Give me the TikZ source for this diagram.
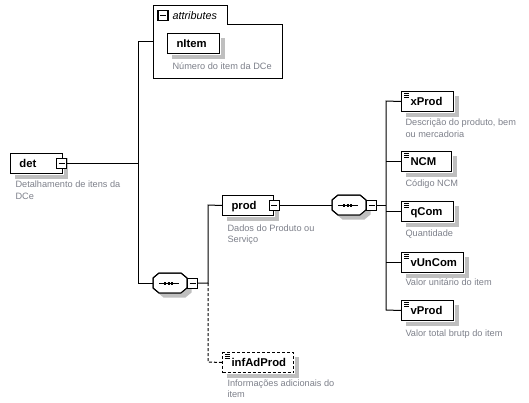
\documentclass[tikz,border=0pt]{standalone}
\usepackage{fontspec}
\setmainfont{Liberation Sans}
\usetikzlibrary{shapes.misc}
\definecolor{desc}{RGB}{125,128,138}
\newcommand\labfont{\fontsize{11.3}{13}\selectfont\bfseries}
\newcommand\descfont{\fontsize{9.2}{11.5}\selectfont}
\newcommand\myoct[2]{({#1-17},{#2-5}) -- ({#1-11},{#2-10}) -- ({#1+11},{#2-10}) -- ({#1+17},{#2-5}) -- ({#1+17},{#2+5}) -- ({#1+11},{#2+10}) -- ({#1-11},{#2+10}) -- ({#1-17},{#2+5}) -- cycle}
\begin{document}
\begin{tikzpicture}[x=1pt,y=-1pt,line width=1pt,
  elem/.style={draw,fill=white,anchor=north west,minimum height=20pt,
    inner xsep=0pt,inner ysep=0pt,text width=#1,align=left,
    text height=8.5pt,text depth=1.5pt,font=\labfont},
  shad/.style={fill=black!25,draw=none},
  simple/.style={path picture={\draw[solid,line width=0.7pt]
    ([shift={(2.5pt,-2pt)}]path picture bounding box.north west) -- ++(5pt,0pt)
    ([shift={(2.5pt,-4pt)}]path picture bounding box.north west) -- ++(5pt,0pt)
    ([shift={(2.5pt,-6pt)}]path picture bounding box.north west) -- ++(5pt,0pt);}},
  minusb/.style={draw,fill=white,minimum size=10pt,inner sep=0pt,line width=0.8pt,
    path picture={\draw[solid,line width=1pt]
      ([xshift=2pt]path picture bounding box.west) --
      ([xshift=-2pt]path picture bounding box.east);}},
  compshape/.style={chamfered rectangle,chamfered rectangle xsep=6pt,
    chamfered rectangle ysep=5pt,minimum width=34pt,minimum height=20pt,inner sep=0pt},
  dsc/.style={anchor=base west,inner sep=0pt,align=left,font=\descfont,text=desc},
  dashy/.style={dash pattern=on 3pt off 2pt}]
\useasboundingbox (0,0) rectangle (529,402);

% coordinates of the buses
\coordinate (b1t) at (138,41);
\coordinate (b1b) at (138,283);
\coordinate (attrin) at (153,41);
\coordinate (b2t) at (208,205);
\coordinate (b2m) at (208,283);
\coordinate (b2b) at (208,362);
\coordinate (b3t) at (386,101);
\coordinate (b3b) at (386,310);

% attributes container
\path[draw=black,fill=white] (153,5) -- (227,5) -- (227,24) -- (282,24) -- (282,78) -- (153,78) -- cycle;
\node[minusb,line width=1.5pt] (attrm) at (163,15.5) {};
\node[anchor=base west,inner sep=0pt,font=\fontsize{10.8}{12}\selectfont\itshape] (attrl) at (172,19.5) {attributes};

% elements
\node[elem=52pt] (det) at (10,153) {\hspace*{9pt}det};
\node[elem=52pt] (nitem) at (167,33) {\hspace*{9pt}nItem};
\node[elem=51pt] (prod) at (222,195) {\hspace*{9pt}prod};
\node[elem=71pt,simple,dashy] (inf) at (222,352) {\hspace*{9pt}infAdProd};
\node[elem=52pt,simple] (xprod) at (401,91) {\hspace*{9pt}xProd};
\node[elem=50pt,simple] (ncm) at (401,151) {\hspace*{9pt}NCM};
\node[elem=52pt,simple] (qcom) at (401,201) {\hspace*{9pt}qCom};
\node[elem=62pt,simple] (vuncom) at (401,252) {\hspace*{9pt}vUnCom};
\node[elem=52pt,simple] (vprod) at (401,300) {\hspace*{9pt}vProd};

% sequence compositors (octagons)
\draw[fill=white] \myoct{170}{283};
\draw[fill=white] \myoct{349}{205};
\node[compshape] (c1) at (170,283) {};
\node[compshape] (c2) at (349,205) {};

% element shadows: strips right of and below each box
\foreach \n in {det,nitem,prod,inf,xprod,ncm,qcom,vuncom,vprod}{
  \path[shad] ([shift={(0.5pt,-4.5pt)}]\n.north east) rectangle ([shift={(4.5pt,-4.5pt)}]\n.south east);
  \path[shad] ([shift={(4.5pt,-0.5pt)}]\n.south west) rectangle ([shift={(4.5pt,-4.5pt)}]\n.south east);
}
% compositor shadows, clipped outside the octagons
\begin{scope}[even odd rule]
  \clip (0,0) rectangle (529,402) \myoct{170}{283};
  \fill[black!25] \myoct{174.5}{287.5};
\end{scope}
\begin{scope}[even odd rule]
  \clip (0,0) rectangle (529,402) \myoct{349}{205};
  \fill[black!25] \myoct{353.5}{209.5};
\end{scope}
\draw \myoct{170}{283};
\draw \myoct{349}{205};

% compositor sequence marks
\foreach \c in {c1,c2}{
  \draw[line width=1pt] ([xshift=-11pt]\c.center) -- ([xshift=9pt]\c.center);
  \draw[line width=3pt,dash pattern=on 2pt off 1.5pt]
    ([xshift=-6pt]\c.center) -- ([xshift=3.5pt]\c.center);
}

% minus boxes
\node[minusb] (detm) at (61.5,163) {};
\node[minusb] (c1m) at (192.5,283) {};
\node[minusb] (prodm) at (274,205) {};
\node[minusb] (c2m) at (371.5,205) {};

% connectors
\draw (detm.east) -- (detm.east -| b1t);
\draw (attrin) -- (b1t) -- (b1b) -- (c1.west);
\draw (c1m.east) -- (b2m) -- (b2t) -- (prod.west);
\draw[dashy] (b2m) -- (b2b) -- (inf.west);
\draw (prodm.east) -- (c2.west);
\draw (c2m.east) -- (c2m.east -| b3t);
\draw (xprod.west) -- (b3t) -- (b3b) -- (vprod.west);
\draw (ncm.west) -- (ncm.west -| b3t);
\draw (qcom.west) -- (qcom.west -| b3t);
\draw (vuncom.west) -- (vuncom.west -| b3t);

% descriptions (base anchor = baseline of the last line)
\node[dsc] (detd) at (15,199) {Detalhamento de itens da\\DCe};
\node[dsc] (nitemd) at (172,69) {Número do item da DCe};
\node[dsc] (prodd) at (227,242.5) {Dados do Produto ou\\Serviço};
\node[dsc] (infd) at (227,397.5) {Informações adicionais do\\item};
\node[dsc] (xprodd) at (405,137) {Descrição do produto, bem\\ou mercadoria};
\node[dsc] (ncmd) at (405,186.5) {Código NCM};
\node[dsc] (qcomd) at (405,236.5) {Quantidade};
\node[dsc] (vuncomd) at (405,285.5) {Valor unitário do item};
\node[dsc] (vprodd) at (405,336.5) {Valor total brutp do item};
\end{tikzpicture}
\end{document}
